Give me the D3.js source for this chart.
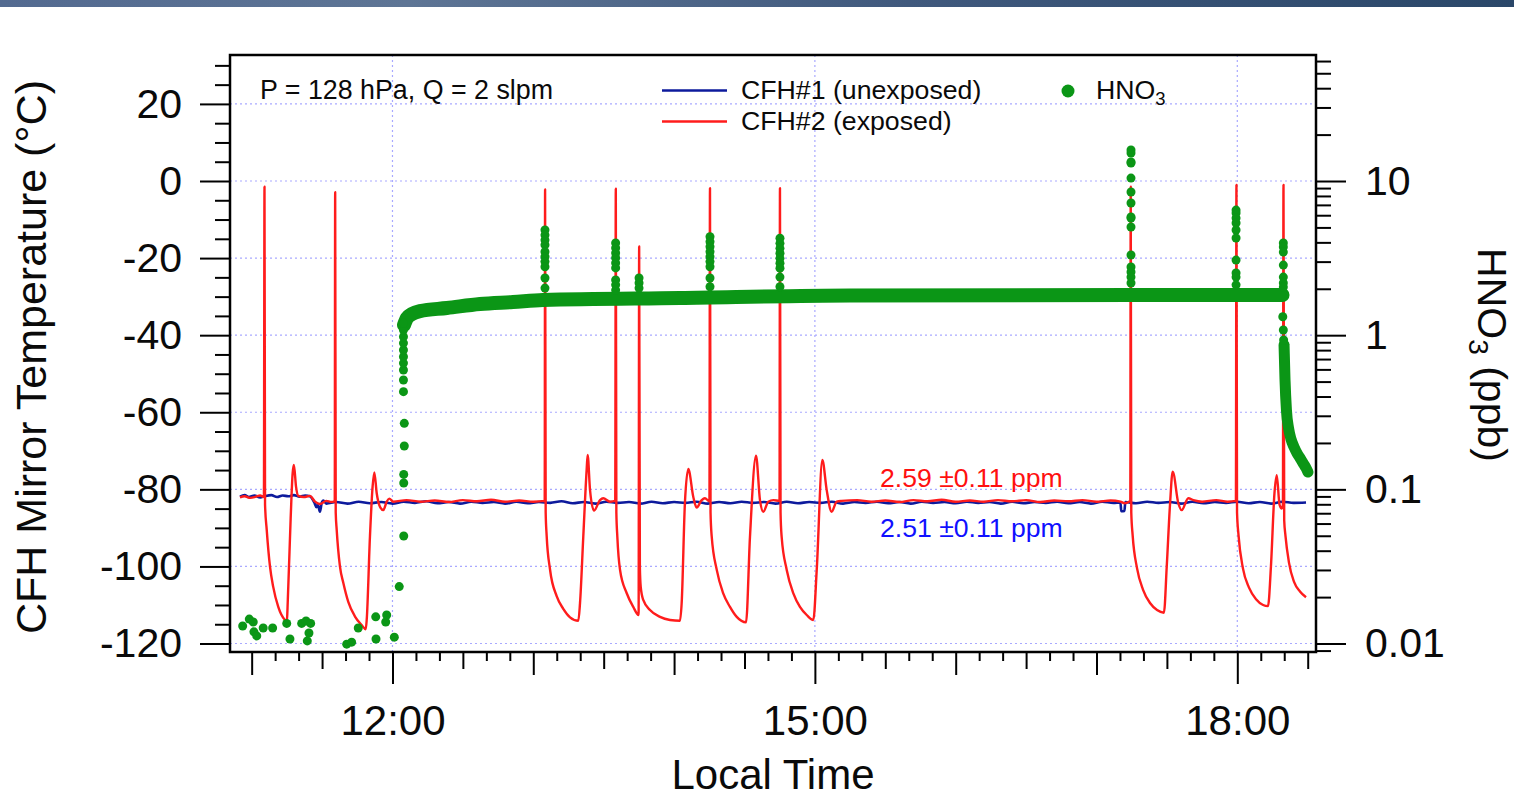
<!DOCTYPE html>
<html>
<head>
<meta charset="utf-8">
<script src="https://cdn.jsdelivr.net/npm/d3@7"></script>
<style>
  body { margin: 0; background: #fff; }
  svg { display: block; font-family: "Liberation Sans", Arial, Helvetica, sans-serif; }
  .axis path.domain { display: none; }
  .axis line { stroke: #000; stroke-width: 2; }
  .axis text { font-family: "Liberation Sans", Arial, Helvetica, sans-serif; font-size: 41px; fill: #0a0a0a; }
  .axis.time text { font-size: 42px; }
  .grid { stroke: #a9a9ff; stroke-width: 1.2; stroke-dasharray: 2,3; }
</style>
</head>
<body>
<div id="chart"></div>
<script>
// ---- data (time in decimal hours, local time) ----

// CFH#1 (unexposed) mirror temperature, deg C
const cfh1 = [
  [10.917, -81.9], [10.95, -81.5], [10.98, -82.0], [11.02, -81.6], [11.06, -82.1], [11.10, -81.7],
  [11.14, -81.5], [11.18, -82.0], [11.22, -81.6], [11.26, -81.8], [11.30, -81.5], [11.34, -81.9],
  [11.38, -81.6], [11.414, -81.8], [11.445, -83.4], [11.460, -84.6], [11.470, -84.0], [11.485, -85.8],
  [11.497, -83.6], [11.509, -82.9], [11.530, -83.7],
  [11.60, -83.3], [11.68, -83.7], [11.76, -83.2], [11.84, -83.6], [11.92, -83.3], [12.00, -83.7],
  [12.08, -83.2], [12.16, -83.5], [12.24, -83.1], [12.32, -83.6], [12.40, -83.3], [12.48, -83.7],
  [12.56, -83.2], [12.64, -83.5], [12.72, -83.3], [12.80, -83.7], [12.88, -83.2], [12.96, -83.6],
  [13.04, -83.3], [13.12, -83.5], [13.20, -83.1], [13.28, -83.6], [13.36, -83.3], [13.44, -83.7],
  [13.52, -83.2], [13.60, -83.5], [13.68, -83.3], [13.76, -83.7], [13.84, -83.2], [13.92, -83.6],
  [14.00, -83.3], [14.08, -83.5], [14.16, -83.2], [14.24, -83.7], [14.32, -83.3], [14.40, -83.6],
  [14.48, -83.2], [14.56, -83.5], [14.64, -83.3], [14.72, -83.7], [14.80, -83.2], [14.88, -83.6],
  [14.96, -83.3], [15.04, -83.5], [15.12, -83.2], [15.20, -83.7], [15.28, -83.3], [15.36, -83.5],
  [15.44, -83.2], [15.52, -83.6], [15.60, -83.3], [15.68, -83.7], [15.76, -83.2], [15.84, -83.5],
  [15.92, -83.3], [16.00, -83.6], [16.08, -83.2], [16.16, -83.5], [16.24, -83.3], [16.32, -83.7],
  [16.40, -83.2], [16.48, -83.6], [16.56, -83.3], [16.64, -83.5], [16.72, -83.2], [16.80, -83.6],
  [16.88, -83.3], [16.96, -83.7], [17.04, -83.2], [17.12, -83.5], [17.170, -83.4],
  [17.176, -85.7], [17.198, -85.6], [17.205, -83.3],
  [17.28, -83.6], [17.36, -83.2], [17.44, -83.5], [17.52, -83.3], [17.60, -83.7], [17.68, -83.2],
  [17.76, -83.6], [17.84, -83.3], [17.92, -83.5], [18.00, -83.2], [18.08, -83.6], [18.16, -83.3],
  [18.24, -83.7], [18.32, -83.2], [18.40, -83.5], [18.488, -83.4]
];

// CFH#2 (exposed) mirror temperature, deg C
const cfh2 = [
  [10.917, -82.1], [10.95, -81.8], [10.99, -82.2], [11.03, -81.9], [11.06, -81.6], [11.087, -82.0],
  [11.091, -1.5], [11.095, -84.0], [11.107, -90.5], [11.130, -100.0], [11.153, -105.3], [11.189, -110.5],
  [11.236, -113.9], [11.249, -114.3], [11.260, -105.3], [11.277, -87.5], [11.291, -75.8], [11.300, -73.7],
  [11.315, -79.3], [11.331, -81.7], [11.37, -82.0], [11.414, -81.7], [11.450, -83.2], [11.485, -83.8],
  [11.53, -83.0], [11.565, -83.3], [11.590, -83.0],
  [11.593, -2.9], [11.597, -86.0], [11.604, -90.5], [11.627, -100.0], [11.651, -104.3], [11.686, -109.2],
  [11.734, -113.0], [11.781, -115.2], [11.810, -116.3], [11.817, -113.9], [11.840, -92.3], [11.859, -79.3],
  [11.871, -75.6], [11.888, -81.0], [11.911, -84.5], [11.935, -85.4], [11.959, -83.2], [11.977, -82.4],
  [12.006, -83.2], [12.10, -82.8], [12.20, -83.2], [12.30, -82.9], [12.40, -83.3], [12.50, -82.8],
  [12.60, -83.1], [12.70, -82.7], [12.80, -83.2], [12.90, -82.9], [13.00, -83.2], [13.081, -83.0],
  [13.084, -2.2], [13.088, -86.0], [13.095, -92.0], [13.119, -100.8], [13.166, -107.7], [13.213, -111.0],
  [13.261, -113.2], [13.320, -114.1], [13.332, -109.5], [13.355, -92.4], [13.379, -75.0], [13.386, -71.1],
  [13.403, -80.2], [13.431, -85.5], [13.474, -82.8], [13.497, -82.3], [13.545, -83.2], [13.582, -83.0],
  [13.586, -2.0], [13.590, -86.0], [13.597, -92.3], [13.616, -100.9], [13.663, -106.9], [13.710, -110.5],
  [13.748, -112.6], [13.752, -17.0], [13.757, -100.0], [13.763, -105.3], [13.781, -108.7], [13.829, -111.3],
  [13.900, -113.1], [13.971, -113.9], [14.042, -114.1], [14.054, -109.5], [14.077, -83.5], [14.101, -74.7],
  [14.136, -81.9], [14.160, -84.7], [14.196, -82.8], [14.219, -82.3], [14.251, -83.1],
  [14.255, -1.9], [14.259, -86.0], [14.267, -92.1], [14.303, -100.9], [14.349, -107.0], [14.397, -110.5],
  [14.445, -113.1], [14.511, -114.5], [14.539, -92.4], [14.582, -71.3], [14.610, -82.8], [14.634, -85.8],
  [14.669, -83.2], [14.705, -82.8], [14.749, -83.0],
  [14.752, -1.9], [14.756, -86.0], [14.764, -92.3], [14.800, -100.9], [14.847, -107.0], [14.894, -110.5],
  [14.942, -112.6], [14.989, -113.9], [15.013, -100.9], [15.053, -72.4], [15.084, -80.2], [15.119, -85.8],
  [15.155, -83.2], [15.190, -83.0], [15.30, -82.8], [15.40, -83.2], [15.50, -82.9], [15.60, -83.3],
  [15.70, -82.8], [15.80, -83.1], [15.90, -82.7], [16.00, -83.2], [16.10, -82.9], [16.20, -83.2],
  [16.30, -82.8], [16.40, -83.1], [16.50, -82.8], [16.60, -83.3], [16.70, -82.9], [16.80, -83.1],
  [16.90, -82.8], [17.00, -83.2], [17.10, -82.9], [17.17, -83.2], [17.20, -83.6], [17.240, -83.0],
  [17.243, -1.5], [17.247, -86.0], [17.257, -92.0], [17.288, -100.5], [17.330, -106.0], [17.380, -109.5],
  [17.430, -111.3], [17.479, -112.0], [17.499, -100.0], [17.522, -84.0], [17.541, -75.4], [17.581, -83.6],
  [17.605, -85.4], [17.652, -82.3], [17.688, -82.8], [17.75, -83.2], [17.85, -82.8], [17.93, -83.2],
  [17.990, -83.0],
  [17.994, -1.0], [17.998, -86.0], [18.009, -92.0], [18.040, -100.5], [18.083, -105.5], [18.133, -108.5],
  [18.183, -110.0], [18.218, -110.3], [18.239, -100.0], [18.264, -81.0], [18.280, -76.3], [18.300, -84.0],
  [18.315, -85.0], [18.324, -84.0],
  [18.328, -1.0], [18.333, -88.0], [18.342, -92.0], [18.367, -99.0], [18.403, -104.0], [18.445, -106.5],
  [18.488, -108.0]
];

// HNO3 (ppb): sparse points before the line was opened, and the rise at ~12:05
const hno3Early = [
  [10.936, 0.0130], [10.983, 0.0144], [11.011, 0.0138], [11.016, 0.0119], [11.036, 0.0112],
  [11.082, 0.0126], [11.149, 0.0126], [11.249, 0.0135], [11.272, 0.0107], [11.355, 0.0135],
  [11.386, 0.0140], [11.395, 0.0104], [11.407, 0.0117], [11.419, 0.0135], [11.675, 0.0099],
  [11.710, 0.0102], [11.757, 0.0126], [11.881, 0.0149], [11.883, 0.0107], [11.952, 0.0138],
  [11.959, 0.0153], [12.013, 0.0110], [12.048, 0.0234], [12.080, 0.0498], [12.080, 0.110],
  [12.080, 0.125], [12.084, 0.191], [12.084, 0.268], [12.078, 0.430], [12.078, 0.512],
  [12.078, 0.594], [12.078, 0.659], [12.078, 0.725], [12.078, 0.801], [12.078, 0.889],
  [12.078, 0.977], [12.078, 1.080], [12.078, 1.199]
];

// HNO3 (ppb): dense record, drawn as a band
const hno3Band = [
  [12.082, 1.164], [12.103, 1.292], [12.138, 1.372], [12.195, 1.434], [12.387, 1.500],
  [12.621, 1.593], [12.856, 1.641], [13.069, 1.690], [14.042, 1.742], [15.249, 1.808],
  [17.238, 1.822], [18.321, 1.822]
];

// HNO3 (ppb): decay after the line was closed
const hno3Tail = [
  [18.332, 0.864], [18.339, 0.512], [18.349, 0.327], [18.364, 0.250], [18.381, 0.212],
  [18.403, 0.188], [18.424, 0.172], [18.445, 0.160], [18.467, 0.148], [18.488, 0.1375],
  [18.502, 0.1295]
];
const hno3TailTop = [[18.323, 1.318], [18.327, 1.08], [18.329, 0.930]];

// HNO3 (ppb): spikes during the CFH#2 frost-clearing cycles
const hno3SpikeTimes = [13.083, 13.585, 13.751, 14.255, 14.752, 17.245, 17.991, 18.327];
const hno3SpikePpb = [
  [4.81, 4.46, 4.14, 3.85, 3.48, 3.23, 3.00, 2.78, 2.35, 2.02],
  [3.96, 3.68, 3.41, 3.17, 2.94, 2.73, 2.28, 2.12, 1.96],
  [2.35, 2.18, 2.02],
  [4.35, 4.04, 3.75, 3.48, 3.23, 3.00, 2.78, 2.35, 2.06],
  [4.25, 3.94, 3.66, 3.40, 3.15, 2.93, 2.72, 2.38, 2.06],
  [15.9, 15.19, 13.28, 13.08, 10.45, 8.48, 7.20, 5.84, 5.75, 5.03, 3.31, 2.77, 2.57, 2.38, 2.18],
  [6.48, 6.20, 5.75, 5.34, 4.81, 4.27, 3.07, 2.53, 2.38, 2.12],
  [3.96, 3.73, 3.46, 2.85, 2.38, 2.18, 2.05]
];

// axis ticks
const tempMajor = [-120, -100, -80, -60, -40, -20, 0, 20];
const hno3Major = [0.01, 0.1, 1, 10];
const timeLabels = [12, 15, 18];

// ---- layout ----
const W = 1514, H = 806;
const margin = {top: 55, right: 198, bottom: 154, left: 230};
const width = W - margin.left - margin.right;
const height = H - margin.top - margin.bottom;

const toDate = h => new Date(2000, 0, 1, 0, 0, Math.round(h * 3600));

const svg = d3.select("#chart").append("svg")
    .attr("width", W)
    .attr("height", H);

// header strip
const grad = svg.append("defs").append("linearGradient").attr("id", "strip");
[["0%", "#536a90"], ["27%", "#5e7595"], ["60%", "#40597d"], ["100%", "#2a4769"]]
    .forEach(s => grad.append("stop").attr("offset", s[0]).attr("stop-color", s[1]));
svg.append("rect").attr("width", W).attr("height", 7).attr("fill", "url(#strip)");

const g = svg.append("g").attr("transform", `translate(${margin.left},${margin.top})`);

const x = d3.scaleTime().domain([toDate(10.846), toDate(18.559)]).range([0, width]);
const yL = d3.scaleLinear().domain([-122.2, 32.69]).range([height, 0]);
const yR = d3.scaleLog().domain([0.00881, 65.67]).range([height, 0]);

g.append("clipPath").attr("id", "clip")
    .append("rect").attr("width", width).attr("height", height);

// grid
g.selectAll("hgrid").data(tempMajor).join("line")
    .attr("class", "grid")
    .attr("x1", 0).attr("x2", width)
    .attr("y1", d => yL(d)).attr("y2", d => yL(d));
g.selectAll("vgrid").data(timeLabels).join("line")
    .attr("class", "grid")
    .attr("x1", d => x(toDate(d))).attr("x2", d => x(toDate(d)))
    .attr("y1", 0).attr("y2", height);

// data
const plot = g.append("g").attr("clip-path", "url(#clip)");

const tempLine = d3.line()
    .curve(d3.curveMonotoneX)
    .x(d => x(toDate(d[0])))
    .y(d => yL(d[1]));
const hno3Line = d3.line()
    .curve(d3.curveMonotoneX)
    .x(d => x(toDate(d[0])))
    .y(d => yR(d[1]));

plot.append("path").datum(cfh1)
    .attr("fill", "none").attr("stroke", "#0d1a9c").attr("stroke-width", 2.6)
    .attr("d", tempLine);
plot.append("path").datum(cfh2)
    .attr("fill", "none").attr("stroke", "#ff1c1c").attr("stroke-width", 2.4)
    .attr("stroke-linejoin", "round")
    .attr("d", tempLine);

const green = "#0b9616";
plot.append("path").datum(hno3Band)
    .attr("fill", "none").attr("stroke", green).attr("stroke-width", 14)
    .attr("stroke-linecap", "round").attr("stroke-linejoin", "round")
    .attr("d", hno3Line);
plot.append("path").datum(hno3Tail)
    .attr("fill", "none").attr("stroke", green).attr("stroke-width", 11)
    .attr("stroke-linecap", "round").attr("stroke-linejoin", "round")
    .attr("d", hno3Line);

const spikePts = hno3SpikeTimes.flatMap((t, i) => hno3SpikePpb[i].map(v => [t, v]));
plot.selectAll("hno3dots")
    .data(hno3Early.concat(spikePts, hno3TailTop))
    .join("circle")
    .attr("cx", d => x(toDate(d[0])))
    .attr("cy", d => yR(d[1]))
    .attr("r", 4.5)
    .attr("fill", green);

// frame
g.append("rect")
    .attr("width", width).attr("height", height)
    .attr("fill", "none").attr("stroke", "#000").attr("stroke-width", 2.5);

// left axis
const tempMinor = d3.range(-120, 31, 5).filter(v => !tempMajor.includes(v));
g.append("g").attr("class", "axis")
    .call(d3.axisLeft(yL).tickValues(tempMinor).tickSize(15).tickFormat(""));
g.append("g").attr("class", "axis")
    .call(d3.axisLeft(yL).tickValues(tempMajor).tickSize(30).tickPadding(18).tickFormat(d => String(d)));

// right axis (log)
const isDecade = d => Math.abs(Math.log10(d) - Math.round(Math.log10(d))) < 1e-9;
const hno3Minor = yR.ticks().filter(d => !isDecade(d));
g.append("g").attr("class", "axis").attr("transform", `translate(${width},0)`)
    .call(d3.axisRight(yR).tickValues(hno3Minor).tickSize(15).tickFormat(""));
g.append("g").attr("class", "axis").attr("transform", `translate(${width},0)`)
    .call(d3.axisRight(yR).tickValues(hno3Major).tickSize(30).tickPadding(19).tickFormat(d => String(d)));

// bottom axis: 10 min, 30 min, 1 h and 3 h ticks
const allTicks = d3.timeMinute.every(10).range(x.domain()[0], x.domain()[1]);
const mins = d => d.getHours() * 60 + d.getMinutes();
const levels = [
  {ticks: allTicks.filter(d => mins(d) % 30 !== 0), size: 9},
  {ticks: allTicks.filter(d => mins(d) % 30 === 0 && mins(d) % 60 !== 0), size: 17},
  {ticks: allTicks.filter(d => mins(d) % 60 === 0 && mins(d) % 180 !== 0), size: 23}
];
levels.forEach(l => {
  g.append("g").attr("class", "axis").attr("transform", `translate(0,${height})`)
      .call(d3.axisBottom(x).tickValues(l.ticks).tickSize(l.size).tickFormat(""));
});
g.append("g").attr("class", "axis time").attr("transform", `translate(0,${height})`)
    .call(d3.axisBottom(x).tickValues(timeLabels.map(toDate)).tickSize(32).tickPadding(21)
        .tickFormat(d3.timeFormat("%H:%M")));

// axis titles
svg.append("text")
    .attr("transform", "translate(46,357) rotate(-90)")
    .attr("text-anchor", "middle").attr("font-size", 43).attr("fill", "#0a0a0a")
    .text("CFH Mirror Temperature (°C)");
svg.append("text")
    .attr("x", margin.left + width / 2).attr("y", 789)
    .attr("text-anchor", "middle").attr("font-size", 42).attr("fill", "#0a0a0a")
    .text("Local Time");
const rt = svg.append("text")
    .attr("transform", "translate(1478,355) rotate(90)")
    .attr("text-anchor", "middle").attr("font-size", 41).attr("fill", "#0a0a0a");
rt.append("tspan").text("HNO");
rt.append("tspan").attr("font-size", 28).attr("dy", 9).text("3");
rt.append("tspan").attr("dy", -9).text(" (ppb)");

// annotations and legend
svg.append("text").attr("x", 260).attr("y", 99)
    .attr("font-size", 26.8).attr("fill", "#0a0a0a")
    .text("P = 128 hPa, Q = 2 slpm");

svg.append("line").attr("x1", 662).attr("x2", 727).attr("y1", 90.5).attr("y2", 90.5)
    .attr("stroke", "#0d1a9c").attr("stroke-width", 2.5);
svg.append("line").attr("x1", 662).attr("x2", 727).attr("y1", 121.5).attr("y2", 121.5)
    .attr("stroke", "#ff1c1c").attr("stroke-width", 2.5);
svg.append("text").attr("x", 741).attr("y", 98.5).attr("font-size", 26.7).attr("fill", "#0a0a0a")
    .text("CFH#1 (unexposed)");
svg.append("text").attr("x", 741).attr("y", 129.5).attr("font-size", 26.7).attr("fill", "#0a0a0a")
    .text("CFH#2 (exposed)");
svg.append("circle").attr("cx", 1068).attr("cy", 91).attr("r", 6.5).attr("fill", green);
const lt = svg.append("text").attr("x", 1096).attr("y", 98.5).attr("font-size", 26.7).attr("fill", "#0a0a0a");
lt.append("tspan").text("HNO");
lt.append("tspan").attr("font-size", 18.5).attr("dy", 6).text("3");

svg.append("text").attr("x", 880).attr("y", 487)
    .attr("font-size", 26.6).attr("fill", "#ff1010")
    .text("2.59 ±0.11 ppm");
svg.append("text").attr("x", 880).attr("y", 537)
    .attr("font-size", 26.6).attr("fill", "#1010ff")
    .text("2.51 ±0.11 ppm");
</script>
</body>
</html>
